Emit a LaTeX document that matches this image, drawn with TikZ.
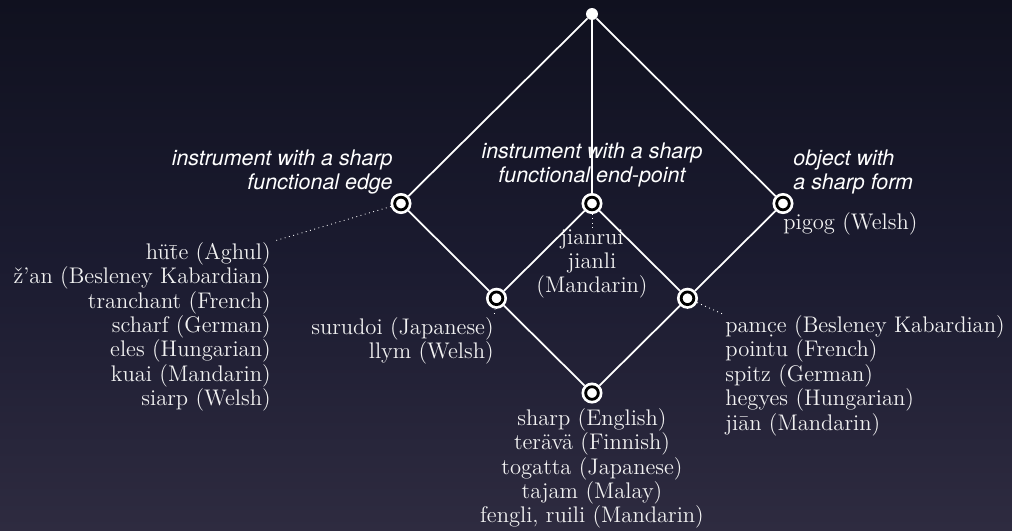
\documentclass[tikz,border=0pt]{standalone}
\usepackage{fontspec}
\setsansfont{TeX Gyre Heros}
\usetikzlibrary{positioning}
\definecolor{bgtop}{HTML}{08090C}
\definecolor{bghigh}{HTML}{10111F}
\definecolor{bgmid}{HTML}{1B1B30}
\definecolor{bglow}{HTML}{2E2B40}
\definecolor{bgbot}{HTML}{453F58}
\pgfdeclareverticalshading{slidebg}{100bp}{color(0bp)=(bgbot); color(25bp)=(bglow); color(50bp)=(bgmid); color(75bp)=(bghigh); color(100bp)=(bgtop)}

\begin{document}
\begin{tikzpicture}[x=1.91cm, y=1.895cm,
	root/.style={circle, fill=white, minimum size=6.8pt, inner sep=0pt},
	concept/.style={circle, fill=white, minimum size=12pt, inner sep=0pt, outer sep=0pt,
		path picture={\draw [black, line width=1.6pt] (path picture bounding box.center) circle (3.6pt);}},
	link/.style={white, line width=1pt},
	gloss/.style={white, dotted, line width=0.5pt},
	words/.style={text=white!95!black, font=\fontsize{12.85}{13.9}\selectfont, inner sep=0pt},
	sense/.style={text=white, font=\sffamily\itshape\fontsize{12.2}{13.6}\selectfont, inner sep=0pt}]
		\shade [shading=slidebg] (-6.199,-1.446) rectangle (4.398,4.148);
		\useasboundingbox (-6.199,-1.446) rectangle (4.398,4.148);
		% lattice
		\node [root] (top) at (0,4) {};
		\node [concept] (edge) at (-2,2) {};
		\node [concept] (point) at (0,2) {};
		\node [concept] (form) at (2,2) {};
		\node [concept] (edgepoint) at (-1,1) {};
		\node [concept] (pointform) at (1,1) {};
		\node [concept] (sharp) at (0,0) {};
		\draw [link] (top) -- (edge);
		\draw [link] (top) -- (point);
		\draw [link] (top) -- (form);
		\draw [link] (edge) -- (edgepoint);
		\draw [link] (point) -- (edgepoint);
		\draw [link] (point) -- (pointform);
		\draw [link] (form) -- (pointform);
		\draw [link] (edgepoint) -- (sharp);
		\draw [link] (pointform) -- (sharp);
		% senses
		\node [sense, anchor=north east, align=right] (edgelabel) at (-2.084,2.565) {instrument with a sharp\\functional edge};
		\node [sense, anchor=north, align=center] (pointlabel) at (0,2.639) {instrument with a sharp\\functional end-point};
		\node [sense, anchor=north west, align=left] (formlabel) at (2.105,2.565) {object with\\a sharp form};
		% words
		\node [words, anchor=north east, align=right] (edgewords) at (-3.361,1.594) {h\"u\=te (Aghul)\\\v{z}'an (Besleney Kabardian)\\tranchant (French)\\scharf (German)\\eles (Hungarian)\\kuai (Mandarin)\\siarp (Welsh)};
		\node [words, anchor=north, align=center] (pointwords) at (0,1.731) {jianrui\\jianli\\(Mandarin)};
		\node [words, anchor=north west, align=left] (formwords) at (2.0,1.91) {pigog (Welsh)};
		\node [words, anchor=north east, align=right] (edgepointwords) at (-1.026,0.802) {surudoi (Japanese)\\llym (Welsh)};
		\node [words, anchor=north west, align=left] (pointformwords) at (1.393,0.823) {pam\d{c}e (Besleney Kabardian)\\pointu (French)\\spitz (German)\\hegyes (Hungarian)\\ji\=an (Mandarin)};
		\node [words, anchor=north, align=center] (sharpwords) at (0,-0.158) {sharp (English)\\ter\"av\"a (Finnish)\\togatta (Japanese)\\tajam (Malay)\\fengli, ruili (Mandarin)};
		\draw [gloss, shorten >=3pt] (edge) -- (edgewords.north east);
		\draw [gloss] (point) -- (pointwords.north);
		\draw [gloss] (edgepoint) -- (edgepointwords.north east);
		\draw [gloss] (pointform) -- (pointformwords.north west);
	\end{tikzpicture}
\end{document}
